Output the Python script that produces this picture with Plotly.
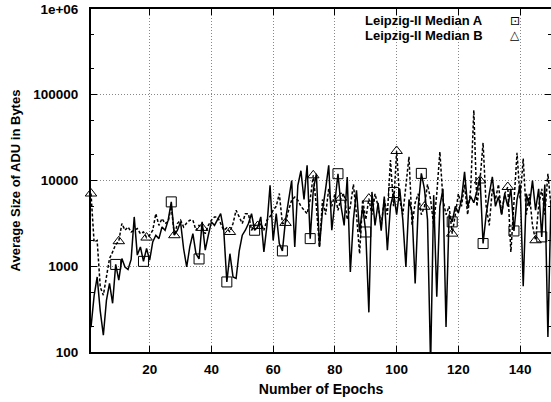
import plotly.graph_objects as go

# ---------------- data ----------------
epochs = list(range(1, 151))

median_a = [
    195, 450, 750, 300, 157, 400, 630, 370, 1050, 690,
    1230, 980, 915, 1200, 3760, 1350, 1680, 1140, 1610, 1175,
    1920, 2300, 2100, 2870, 2630, 3450, 5630, 2300, 2630, 3290,
    1600, 980, 1680, 2400, 1400, 1217, 3290, 1540, 2300, 3290,
    3000, 3450, 4100, 2630, 656, 1400, 750, 720, 1500, 2300,
    2630, 3150, 4100, 2630, 2870, 3760, 1470, 3000, 8800, 2000,
    4100, 1840, 1510, 3450, 5900, 10000, 1680, 8800, 13000, 6000,
    15000, 2100, 7700, 12000, 1680, 4500, 8000, 15000, 2630, 6000,
    12000, 5000, 3000, 11000, 860, 3500, 7700, 2500, 5000, 2510,
    290, 7360, 3000, 5500, 2600, 6500, 1540, 5000, 7240, 4000,
    8000, 3500, 980, 6000, 4200, 630, 5000, 12100, 8000, 3500,
    70, 6750, 440, 5000, 8000, 196, 4000, 3290, 5000, 4200,
    6000, 12600, 5000, 6500, 5500, 7500, 11000, 1840, 4000, 7000,
    11000, 5000, 6500, 4000, 7000, 5000, 8000, 2580, 6000, 9000,
    585, 7000, 5000, 10000, 4500, 8000, 2200, 9000, 150, 6000,
]

median_b = [
    7050, 1920, 2000, 570, 460, 750, 1230, 1470, 1800, 1960,
    3150, 2630, 2870, 2510, 2630, 2750, 2400, 2510, 2160, 2300,
    2630, 4100, 3000, 3600, 3150, 3300, 5000, 2300, 3150, 3450,
    2870, 3200, 3450, 3450, 2630, 3000, 2800, 2400, 3000, 3450,
    3760, 3760, 3150, 2630, 2800, 2510, 3150, 4500, 3760, 3150,
    4100, 4100, 2630, 3000, 2950, 3150, 2630, 3450, 3800, 4500,
    5000, 7050, 3150, 3200, 4500, 5900, 6400, 5900, 5000, 4500,
    4100, 6000, 11500, 5000, 1680, 6000, 4000, 8000, 5000, 7000,
    4500, 6300, 7000, 3500, 5000, 9000, 4000, 1400, 6000, 3500,
    6150, 4000, 7000, 5000, 3000, 6000, 4000, 17300, 5000, 22100,
    6000, 4000, 8000, 18900, 3000, 5500, 7000, 4000, 4940, 9000,
    6000, 3000, 7000, 21600, 6000, 4000, 5000, 2400, 4000, 7000,
    5000, 9000, 4000, 8000, 66000, 5000, 10000, 27500, 5000, 3000,
    8000, 6000, 9000, 4000, 7000, 8400, 1470, 5000, 21000, 6000,
    18000, 4000, 7000, 3000, 2010, 5000, 8000, 4000, 12000, 5000,
]

marks_a = [9, 18, 27, 36, 45, 54, 63, 72, 81, 90, 99, 108, 118, 128, 138, 147]
marks_b = [1, 10, 19, 28, 37, 46, 55, 64, 73, 82, 91, 100, 109, 118, 127, 136, 145]

series_names = ["Leipzig-II Median A", "Leipzig-II Median B"]
legend_symbols = ["\u22A1", "\u25B3"]

x_ticks = [20, 40, 60, 80, 100, 120, 140]
y_ticks = [100, 1000, 10000, 100000, 1000000]
y_tick_text = ["100", "1000", "10000", "100000", "1e+06"]

x_title = "Number of Epochs"
y_title = "Average Size of ADU in Bytes"

# ---------------- figure ----------------
FONT = "Liberation Sans, Arial, sans-serif"

fig = go.Figure()

fig.add_trace(go.Scatter(
    x=epochs, y=median_a, mode="lines",
    line=dict(color="black", width=1.5),
    showlegend=False, hoverinfo="skip",
))
fig.add_trace(go.Scatter(
    x=epochs, y=median_b, mode="lines",
    line=dict(color="black", width=1.5, dash="3px,2px"),
    showlegend=False, hoverinfo="skip",
))
fig.add_trace(go.Scatter(
    x=marks_a, y=[median_a[e - 1] for e in marks_a], mode="markers",
    marker=dict(symbol="square-open", size=10, color="black", line=dict(width=1)),
    cliponaxis=False, name=series_names[0], showlegend=False,
))
fig.add_trace(go.Scatter(
    x=marks_b, y=[median_b[e - 1] for e in marks_b], mode="markers",
    marker=dict(symbol="triangle-up-open", size=10, color="black", line=dict(width=1)),
    cliponaxis=False, name=series_names[1], showlegend=False,
))

axis_common = dict(
    showline=True, linecolor="black", linewidth=2, mirror="ticks",
    ticks="inside", ticklen=6, tickwidth=1, tickcolor="black",
    showgrid=True, gridcolor="#888888", griddash="1px,2px", gridwidth=1,
    zeroline=False,
    tickfont=dict(family=FONT, size=13.5, color="black", weight="bold"),
)

fig.update_xaxes(
    range=[1, 150], tickvals=x_ticks, ticktext=[str(v) for v in x_ticks],
    title=dict(text=x_title, font=dict(family=FONT, size=14, color="black", weight="bold"), standoff=8),
    ticklabelstandoff=4,
    **axis_common,
)
fig.update_yaxes(
    type="log", range=[2, 6], tickvals=y_ticks, ticktext=y_tick_text,
    title=dict(text=y_title, font=dict(family=FONT, size=13, color="black", weight="bold"), standoff=10),
    ticklabelstandoff=8,
    minor=dict(ticks="inside", ticklen=3, tickcolor="black", dtick="D2", showgrid=False),
    **axis_common,
)

annotations = []
for i, (name, sym) in enumerate(zip(series_names, legend_symbols)):
    yy = 0.966 - i * 0.043
    annotations.append(dict(
        x=0.857, y=yy, xref="paper", yref="paper", text=name, showarrow=False,
        xanchor="right", yanchor="middle",
        font=dict(family=FONT, size=13, color="black", weight="bold"),
    ))
    annotations.append(dict(
        x=0.922, y=yy, xref="paper", yref="paper", text=sym, showarrow=False,
        xanchor="center", yanchor="middle",
        font=dict(family="DejaVu Sans", size=12, color="black"),
    ))

fig.update_layout(
    width=551, height=402,
    margin=dict(l=91, r=0, t=9, b=50, autoexpand=False),
    paper_bgcolor="white", plot_bgcolor="white",
    showlegend=False,
    annotations=annotations,
)

fig.write_html("out.html")
